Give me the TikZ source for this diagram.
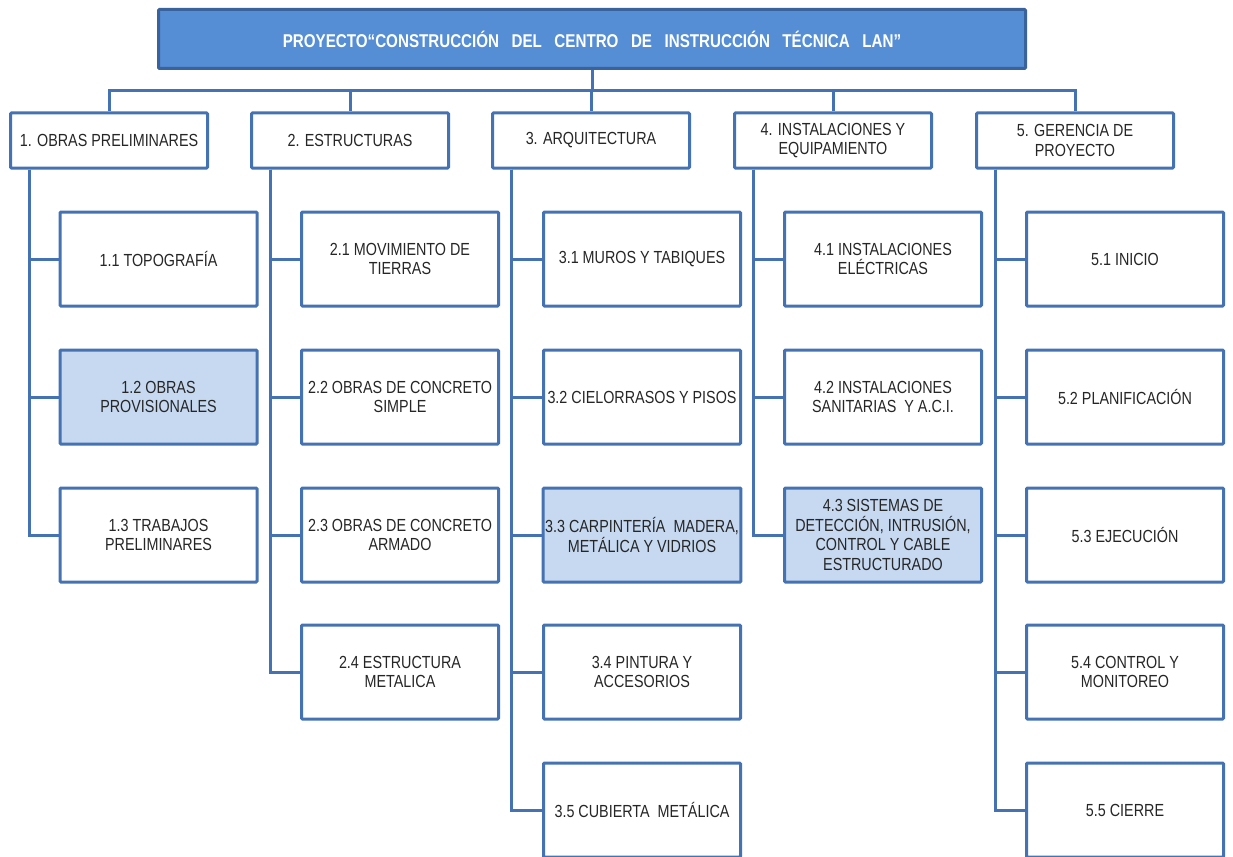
\documentclass[tikz,border=0pt]{standalone}
\usepackage{fontspec}
\setmainfont{Liberation Sans}[FakeStretch=0.82]
\definecolor{wbsline}{RGB}{68,114,178}
\definecolor{topfill}{RGB}{85,142,213}
\definecolor{topline}{RGB}{58,98,156}
\definecolor{hilite}{RGB}{198,217,241}
\definecolor{ink}{RGB}{38,38,38}
% bold narrow title with wide word gaps
\newcommand\wbstitlefont{\bfseries\fontsize{18.5}{20}\selectfont\spaceskip 12.5pt\relax}
\tikzset{
  wbsbox/.style={draw=wbsline, line width=3pt, fill=white, rounded corners=1pt,
    align=center, text=ink, inner sep=2pt,
    font=\fontsize{17.5}{19.5}\selectfont},
  rootbox/.style={wbsbox, draw=topline, fill=topfill, text=white,
    minimum width=867pt, minimum height=59pt, font={\wbstitlefont}},
  phasebox/.style={wbsbox, minimum width=197pt, minimum height=55pt},
  taskbox/.style={wbsbox, minimum width=197pt, minimum height=94pt},
  marked/.style={fill=hilite},
  link/.style={draw=wbsline, line width=3pt},
}
\begin{document}
\begin{tikzpicture}[x=1pt, y=-1pt]
\useasboundingbox (0,0) rectangle (1233,856);
\clip (0,0) rectangle (1233,856);
\fill[white] (0,0) rectangle (1233,856);

% project root
\node[rootbox] (top) at (592,39) {PROYECTO“CONSTRUCCIÓN DEL CENTRO DE INSTRUCCIÓN TÉCNICA LAN”};

% phases
\node[phasebox] (p1) at (109,140.5) {1. OBRAS PRELIMINARES};
\node[phasebox] (p2) at (350,140.5) {2. ESTRUCTURAS};
\node[phasebox] (p3) at (591,140.5) {3. ARQUITECTURA};
\node[phasebox] (p4) at (833,140.5) {4. INSTALACIONES Y\\EQUIPAMIENTO};
\node[phasebox] (p5) at (1075,140.5) {5. GERENCIA DE\\PROYECTO};

% work packages
\node[taskbox] (c11) at (158.5,259) {1.1 TOPOGRAFÍA};
\node[taskbox, marked] (c12) at (158.5,397) {1.2 OBRAS\\PROVISIONALES};
\node[taskbox] (c13) at (158.5,535) {1.3 TRABAJOS\\PRELIMINARES};

\node[taskbox] (c21) at (400,259) {2.1 MOVIMIENTO DE\\TIERRAS};
\node[taskbox] (c22) at (400,397) {2.2 OBRAS DE CONCRETO\\SIMPLE};
\node[taskbox] (c23) at (400,535) {2.3 OBRAS DE CONCRETO\\ARMADO};
\node[taskbox] (c24) at (400,672) {2.4 ESTRUCTURA\\METALICA};

\node[taskbox] (c31) at (642,259) {3.1 MUROS Y TABIQUES};
\node[taskbox] (c32) at (642,397) {3.2 CIELORRASOS Y PISOS};
\node[taskbox, marked] (c33) at (642,535) {3.3 CARPINTERÍA \ MADERA,\\METÁLICA Y VIDRIOS};
\node[taskbox] (c34) at (642,672) {3.4 PINTURA Y\\ACCESORIOS};
\node[taskbox] (c35) at (642,810) {3.5 CUBIERTA \ METÁLICA};

\node[taskbox] (c41) at (883,259) {4.1 INSTALACIONES\\ELÉCTRICAS};
\node[taskbox] (c42) at (883,397) {4.2 INSTALACIONES\\SANITARIAS \ Y A.C.I.};
\node[taskbox, marked] (c43) at (883,535) {4.3 SISTEMAS DE\\DETECCIÓN, INTRUSIÓN,\\CONTROL Y CABLE\\ESTRUCTURADO};

\node[taskbox] (c51) at (1125,259) {5.1 INICIO};
\node[taskbox] (c52) at (1125,397) {5.2 PLANIFICACIÓN};
\node[taskbox] (c53) at (1125,535) {5.3 EJECUCIÓN};
\node[taskbox] (c54) at (1125,672) {5.4 CONTROL Y\\MONITOREO};
\node[taskbox] (c55) at (1125,810) {5.5 CIERRE};

% root to phases
\foreach \p in {p1,p2,p3,p4,p5}
  \draw[link] (top.south) -- ++(0,21) -| (\p.north);

% phases to work packages
\foreach \p/\kids in {p1/{c11,c12,c13}, p2/{c21,c22,c23,c24},
                      p3/{c31,c32,c33,c34,c35}, p4/{c41,c42,c43},
                      p5/{c51,c52,c53,c54,c55}}
  \foreach \c in \kids
    \draw[link] ([xshift=20pt]\p.south west) |- (\c.west);
\end{tikzpicture}
\end{document}
